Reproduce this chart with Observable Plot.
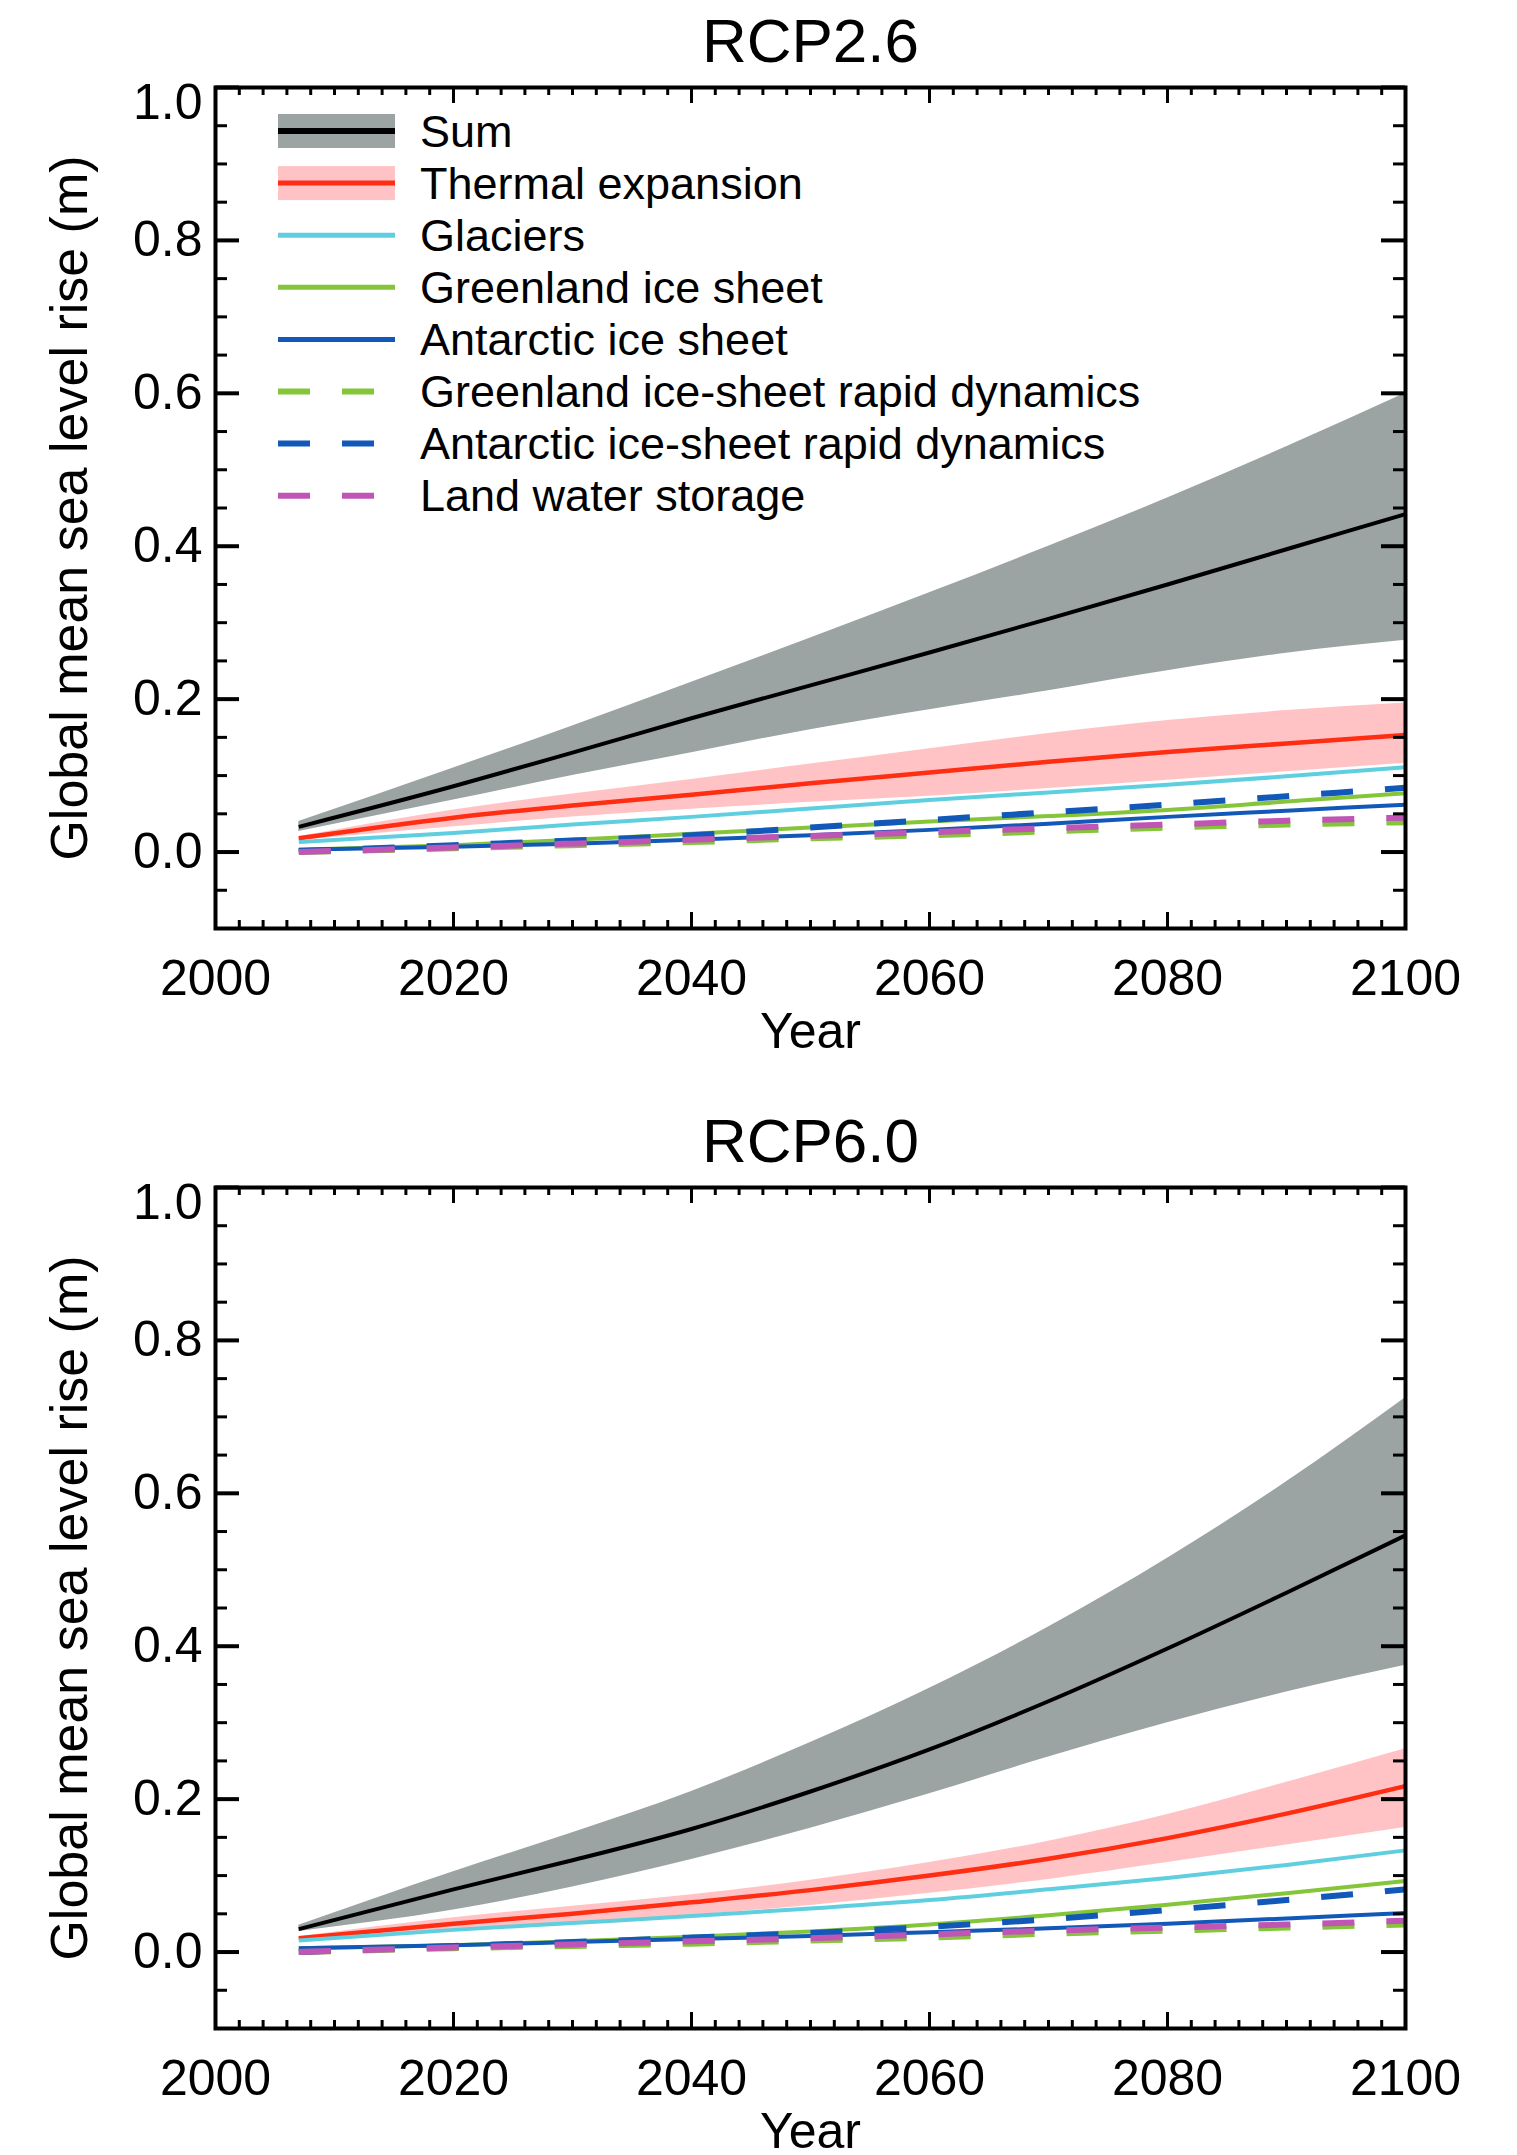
<!DOCTYPE html>
<html>
<head>
<meta charset="utf-8">
<script src="https://cdn.jsdelivr.net/npm/d3@7"></script>
<script src="https://cdn.jsdelivr.net/npm/@observablehq/plot@0.6"></script>
<style>
  html, body { margin: 0; padding: 0; background: #fff; }
  #chart { width: 1517px; }
  #chart svg { display: block; }
</style>
</head>
<body>
<div id="chart"></div>
<script>
// ---------------- data ----------------
const years = [2007, 2020, 2030, 2040, 2050, 2060, 2070, 2080, 2090, 2100];

// RCP2.6
const rcp26_sumMid   = [0.033, 0.086, 0.130, 0.175, 0.218, 0.261, 0.305, 0.350, 0.396, 0.442];
const rcp26_sumHi    = [0.040, 0.110, 0.165, 0.222, 0.280, 0.339, 0.400, 0.463, 0.530, 0.600];
const rcp26_sumLo    = [0.027, 0.068, 0.100, 0.130, 0.160, 0.186, 0.211, 0.237, 0.260, 0.277];
const rcp26_thMid    = [0.018, 0.045, 0.061, 0.075, 0.090, 0.104, 0.118, 0.131, 0.142, 0.153];
const rcp26_thHi     = [0.020, 0.055, 0.076, 0.095, 0.115, 0.135, 0.155, 0.172, 0.185, 0.195];
const rcp26_thLo     = [0.015, 0.033, 0.046, 0.056, 0.065, 0.073, 0.083, 0.094, 0.105, 0.116];
const rcp26_glac     = [0.013, 0.025, 0.036, 0.046, 0.057, 0.068, 0.078, 0.088, 0.099, 0.111];
const rcp26_gris     = [0.003, 0.009, 0.016, 0.024, 0.032, 0.040, 0.047, 0.055, 0.066, 0.077];
const rcp26_ais      = [0.003, 0.007, 0.011, 0.016, 0.022, 0.029, 0.037, 0.046, 0.054, 0.062];
const rcp26_grisDyn  = [0.000, 0.005, 0.009, 0.013, 0.018, 0.022, 0.027, 0.032, 0.036, 0.039];
const rcp26_aisDyn   = [0.001, 0.009, 0.015, 0.022, 0.032, 0.042, 0.052, 0.062, 0.073, 0.084];
const rcp26_land     = [0.000, 0.006, 0.011, 0.016, 0.021, 0.026, 0.031, 0.036, 0.041, 0.045];

// RCP6.0
const rcp60_sumMid   = [0.030, 0.082, 0.120, 0.161, 0.210, 0.265, 0.328, 0.397, 0.470, 0.545];
const rcp60_sumHi    = [0.035, 0.105, 0.156, 0.210, 0.274, 0.345, 0.425, 0.515, 0.615, 0.725];
const rcp60_sumLo    = [0.027, 0.055, 0.085, 0.121, 0.162, 0.207, 0.255, 0.300, 0.340, 0.375];
const rcp60_thMid    = [0.018, 0.037, 0.050, 0.065, 0.081, 0.100, 0.122, 0.149, 0.181, 0.217];
const rcp60_thHi     = [0.020, 0.045, 0.060, 0.075, 0.094, 0.117, 0.145, 0.180, 0.222, 0.266];
const rcp60_thLo     = [0.015, 0.029, 0.038, 0.048, 0.061, 0.077, 0.095, 0.117, 0.140, 0.163];
const rcp60_glac     = [0.015, 0.029, 0.038, 0.047, 0.057, 0.068, 0.082, 0.097, 0.114, 0.133];
const rcp60_gris     = [0.005, 0.009, 0.014, 0.020, 0.027, 0.036, 0.048, 0.062, 0.077, 0.093];
const rcp60_ais      = [0.005, 0.009, 0.013, 0.017, 0.021, 0.026, 0.031, 0.037, 0.044, 0.051];
const rcp60_grisDyn  = [0.000, 0.005, 0.008, 0.011, 0.015, 0.019, 0.024, 0.028, 0.032, 0.036];
const rcp60_aisDyn   = [0.000, 0.008, 0.013, 0.019, 0.025, 0.033, 0.043, 0.055, 0.068, 0.082];
const rcp60_land     = [0.000, 0.006, 0.010, 0.014, 0.018, 0.023, 0.028, 0.032, 0.036, 0.041];

// legend / series styling
const seriesNames  = ["Sum", "Thermal expansion", "Glaciers", "Greenland ice sheet", "Antarctic ice sheet",
                      "Greenland ice-sheet rapid dynamics", "Antarctic ice-sheet rapid dynamics", "Land water storage"];
const seriesColors = ["#000000", "#ff2d12", "#5fcfdf", "#84c53a", "#1158b8", "#84c53a", "#1158b8", "#c055b5"];
const seriesBands  = ["#9ca3a3", "#ffc3c6", null, null, null, null, null, null];
const seriesDashed = [false, false, false, false, false, true, true, true];

// axes
const xDomain = [2000, 2100];
const yDomain = [-0.1, 1.0];
const xMajorTicks = [2000, 2020, 2040, 2060, 2080, 2100];
const xMinorTicks = d3.range(2000, 2101, 2).filter(d => d % 20 !== 0);
const yLabelTicks = [0.0, 0.2, 0.4, 0.6, 0.8];
const yTopTick = [1.0];
const yMajorTicks = [0.0, 0.2, 0.4, 0.6, 0.8, 1.0];
const yMinorTicks = d3.range(-2, 21).filter(i => i % 4 !== 0).map(i => i * 0.05);

const titles = ["RCP2.6", "RCP6.0"];
const xLabel = "Year";
const yLabel = "Global mean sea level rise (m)";

// ---------------- drawing ----------------
const FONT = "'Liberation Sans', Arial, Helvetica, sans-serif";
const W = 1517, mL = 215, mR = 112, mT = 87;
const frameH = 841, frameW = W - mL - mR;

function rows(vals) { return years.map((y, i) => ({year: y, v: vals[i]})); }
function bandRows(lo, hi) { return years.map((y, i) => ({year: y, lo: lo[i], hi: hi[i]})); }

function panel(title, s, height, mB) {
  const curve = "monotone-x";
  const line = (vals, color, dashed, sw) => Plot.lineY(rows(vals), {
    x: "year", y: "v", stroke: color, strokeWidth: sw, curve,
    strokeDasharray: dashed ? "32,32" : null, strokeLinecap: "butt"
  });
  const tickMajLenX = 16, tickMinLenX = 8, tickMajLenY = 24, tickMinLenY = 12;
  return Plot.plot({
    width: W, height,
    marginLeft: mL, marginRight: mR, marginTop: mT, marginBottom: mB,
    x: {domain: xDomain},
    y: {domain: yDomain},
    style: {fontFamily: FONT, fontSize: "50px", color: "black", background: "white", overflow: "visible"},
    marks: [
      Plot.areaY(bandRows(s.sumLo, s.sumHi), {x: "year", y1: "lo", y2: "hi", fill: seriesBands[0], curve}),
      line(s.sumMid, seriesColors[0], false, 4),
      Plot.areaY(bandRows(s.thLo, s.thHi), {x: "year", y1: "lo", y2: "hi", fill: seriesBands[1], curve}),
      line(s.thMid, seriesColors[1], false, 4.5),
      line(s.glac, seriesColors[2], false, 4),
      line(s.gris, seriesColors[3], false, 4),
      line(s.ais, seriesColors[4], false, 4),
      line(s.grisDyn, seriesColors[5], true, 6),
      line(s.aisDyn, seriesColors[6], true, 6),
      line(s.land, seriesColors[7], true, 6),
      // inward ticks
      Plot.ruleX(xMajorTicks, {x: d => d, insetTop: frameH - tickMajLenX, strokeWidth: 3}),
      Plot.ruleX(xMajorTicks, {x: d => d, insetBottom: frameH - tickMajLenX, strokeWidth: 3}),
      Plot.ruleX(xMinorTicks, {x: d => d, insetTop: frameH - tickMinLenX, strokeWidth: 3}),
      Plot.ruleX(xMinorTicks, {x: d => d, insetBottom: frameH - tickMinLenX, strokeWidth: 3}),
      Plot.ruleY(yMajorTicks, {y: d => d, insetRight: frameW - tickMajLenY, strokeWidth: 4}),
      Plot.ruleY(yMajorTicks, {y: d => d, insetLeft: frameW - tickMajLenY, strokeWidth: 4}),
      Plot.ruleY(yMinorTicks, {y: d => d, insetRight: frameW - tickMinLenY, strokeWidth: 3}),
      Plot.ruleY(yMinorTicks, {y: d => d, insetLeft: frameW - tickMinLenY, strokeWidth: 3}),
      Plot.frame({stroke: "black", strokeWidth: 4}),
      // tick labels
      Plot.axisX({ticks: xMajorTicks, tickSize: 0, tickPadding: 31, tickFormat: d => String(d), label: null, fontSize: 50}),
      Plot.axisY({ticks: yLabelTicks, tickSize: 0, tickPadding: 13, tickFormat: d3.format(".1f"), label: null, fontSize: 50}),
      Plot.axisY({ticks: yTopTick, tickSize: 0, tickPadding: 13, tickFormat: d3.format(".1f"), label: null, fontSize: 50, dy: 15}),
      // labels and title
      Plot.text([title], {text: d => d, frameAnchor: "top", textAnchor: "middle", lineAnchor: "middle", dy: -45, fontSize: 62}),
      Plot.text([xLabel], {text: d => d, frameAnchor: "bottom", textAnchor: "middle", lineAnchor: "middle", dy: 103, fontSize: 50}),
      Plot.text([yLabel], {text: d => d, frameAnchor: "left", textAnchor: "middle", lineAnchor: "middle", rotate: -90, dx: -145, fontSize: 52})
    ]
  });
}

const s26 = {sumMid: rcp26_sumMid, sumHi: rcp26_sumHi, sumLo: rcp26_sumLo, thMid: rcp26_thMid, thHi: rcp26_thHi, thLo: rcp26_thLo,
  glac: rcp26_glac, gris: rcp26_gris, ais: rcp26_ais, grisDyn: rcp26_grisDyn, aisDyn: rcp26_aisDyn, land: rcp26_land};
const s60 = {sumMid: rcp60_sumMid, sumHi: rcp60_sumHi, sumLo: rcp60_sumLo, thMid: rcp60_thMid, thHi: rcp60_thHi, thLo: rcp60_thLo,
  glac: rcp60_glac, gris: rcp60_gris, ais: rcp60_ais, grisDyn: rcp60_grisDyn, aisDyn: rcp60_aisDyn, land: rcp60_land};

const chartEl = document.getElementById("chart");
const topPanel = panel(titles[0], s26, 1100, 1100 - 928);
const bottomPanel = panel(titles[1], s60, 1055, 1055 - 928);
chartEl.appendChild(topPanel);
chartEl.appendChild(bottomPanel);

// legend inside the top panel
const lg = d3.select(topPanel).append("g").attr("class", "legend")
  .attr("font-family", FONT).attr("font-size", 45).attr("fill", "black").attr("text-anchor", "start");
const legX0 = 278, legX1 = 395, legTextX = 420, legY0 = 131, legStep = 52.1;
seriesNames.forEach((name, i) => {
  const cy = legY0 + i * legStep;
  if (seriesBands[i]) {
    lg.append("rect").attr("x", legX0).attr("y", cy - 17).attr("width", legX1 - legX0).attr("height", 34)
      .attr("fill", seriesBands[i]);
  }
  lg.append("line").attr("x1", legX0).attr("x2", seriesDashed[i] ? 374 : legX1)
    .attr("y1", cy).attr("y2", cy)
    .attr("stroke", seriesColors[i]).attr("stroke-width", seriesDashed[i] ? 6 : (i === 0 ? 6 : 5))
    .attr("stroke-dasharray", seriesDashed[i] ? "32,32" : null);
  lg.append("text").attr("x", legTextX).attr("y", cy).attr("dy", "0.35em").attr("text-anchor", "start").text(name);
});
</script>
</body>
</html>
